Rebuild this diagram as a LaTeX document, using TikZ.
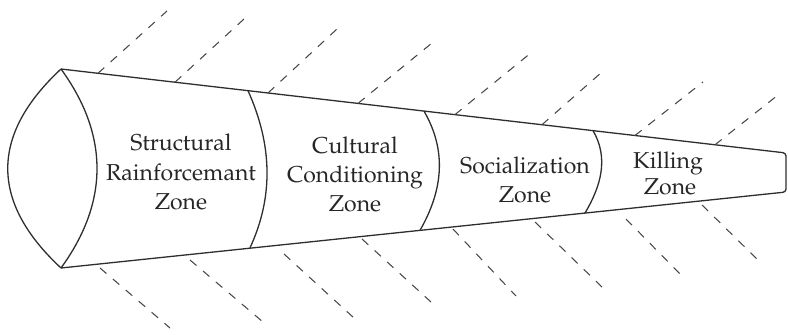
\documentclass[tikz,border=0pt]{standalone}
\usepackage[T1]{fontenc}
\usepackage{mathpazo}
\begin{document}
\begin{tikzpicture}[x=1pt,y=-1pt,
  edge/.style={line width=1.3pt, black!82, line join=round},
  hatch/.style={line width=1.05pt, black!72, dash pattern=on 8.5pt off 8.5pt},
  lbl/.style={anchor=base, font=\fontsize{23}{29}\selectfont, inner sep=0pt, text=black!85}]
\useasboundingbox (0,0) rectangle (788,335);
% cone outline
\coordinate (T0) at (61,69);
\coordinate (B0) at (61,268);
\coordinate (Te) at (786,153);
\coordinate (Be) at (786,192);
\draw[edge, rounded corners=3pt] (T0) -- (Te) -- (Be) -- (B0);
% mouth
\draw[edge] (T0) .. controls (-10,135) and (-10,202) .. (B0);
\draw[edge] (T0) .. controls (109,135) and (109,202) .. (B0);
% zone boundaries
\coordinate (a1t) at (248,90.7);  \coordinate (a1b) at (250,247.8);
\coordinate (a2t) at (424,111.1); \coordinate (a2b) at (420,230.4);
\coordinate (a3t) at (593,130.6); \coordinate (a3b) at (585,213.1);
\draw[edge] (a1t) .. controls (272,144) and (274,196) .. (a1b);
\draw[edge] (a2t) .. controls (447,151) and (443,190) .. (a2b);
\draw[edge] (a3t) .. controls (609,158) and (601,186) .. (a3b);
% upper dashed lines
\coordinate (u1s) at (98,73.3);   \coordinate (u1e) at (167,11);
\coordinate (u2s) at (175,82.2);  \coordinate (u2e) at (244,19);
\coordinate (u3s) at (268,93.0);  \coordinate (u3e) at (337,29);
\coordinate (u4s) at (358,103.4); \coordinate (u4e) at (432,43);
\coordinate (u5s) at (455,114.6); \coordinate (u5e) at (532,52);
\coordinate (u6s) at (542,124.7); \coordinate (u6e) at (602,72);
\coordinate (u7s) at (635,135.5); \coordinate (u7e) at (703,82);
\coordinate (u8s) at (715,144.8); \coordinate (u8e) at (778,95);
\foreach \i in {1,...,8} { \draw[hatch] (u\i s) -- (u\i e); }
% lower dashed lines
\coordinate (d1s) at (100,268); \coordinate (d1e) at (170,328);
\coordinate (d2s) at (190,260); \coordinate (d2e) at (263,322);
\coordinate (d3s) at (284,254); \coordinate (d3e) at (354,318);
\coordinate (d4s) at (362,239); \coordinate (d4e) at (431,302);
\coordinate (d5s) at (453,229); \coordinate (d5e) at (516,296);
\coordinate (d6s) at (535,222); \coordinate (d6e) at (603,288);
\coordinate (d7s) at (626,219); \coordinate (d7e) at (681,275);
\coordinate (d8s) at (702,205); \coordinate (d8e) at (757,259);
\foreach \i in {1,...,8} { \draw[hatch] (d\i s) -- (d\i e); }
% labels
\node[lbl] (s1) at (181,150) {Structural};
\node[lbl] (s2) at (181,180) {Rainforcemant};
\node[lbl] (s3) at (181,209) {Zone};
\node[lbl] (c1) at (355,153) {Cultural};
\node[lbl] (c2) at (355,182) {Conditioning};
\node[lbl] (c3) at (355,211) {Zone};
\node[lbl] (z1) at (525,173) {Socialization};
\node[lbl] (z2) at (525,202) {Zone};
\node[lbl] (k1) at (668,168) {Killing};
\node[lbl] (k2) at (670,194) {Zone};
\end{tikzpicture}
\end{document}
